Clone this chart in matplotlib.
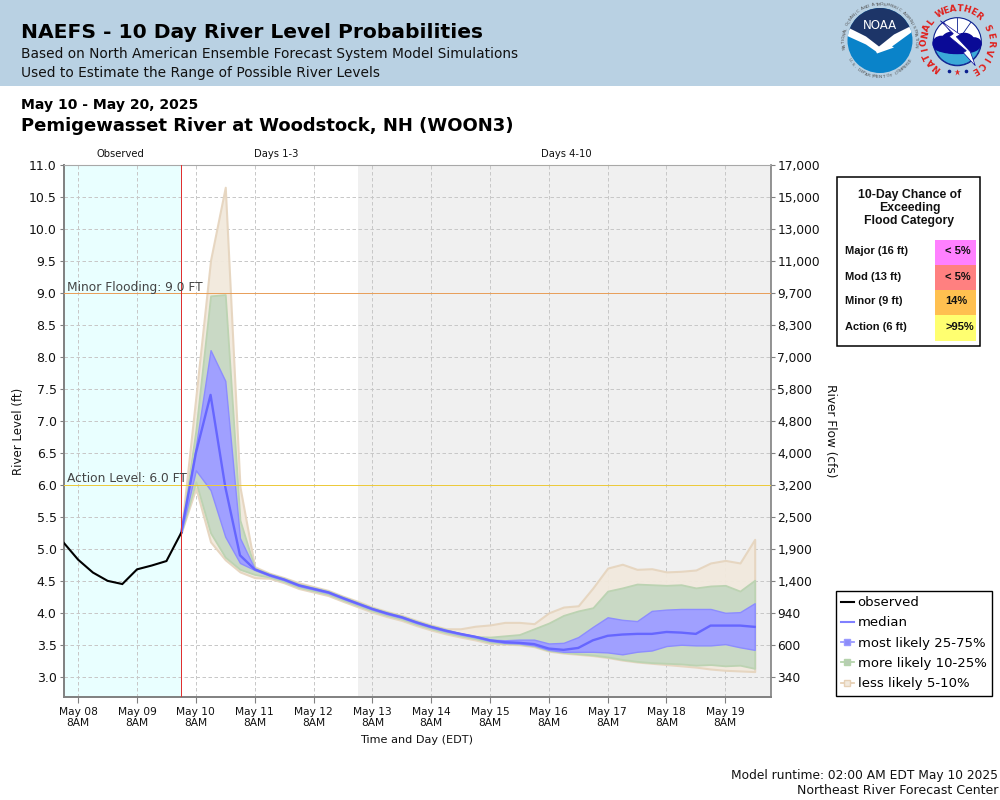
"""NAEFS 10 day river level probabilities, Pemigewasset River at Woodstock."""
import numpy as np
import matplotlib
matplotlib.use("Agg")
import matplotlib.pyplot as plt
from matplotlib.lines import Line2D
from matplotlib.patches import Circle, Ellipse, Polygon, Rectangle, Wedge

# hours since May 08 8AM
OBS_HOURS = [-6, 0, 6, 12, 18, 24, 30, 36, 42]
OBSERVED = [5.10, 4.83, 4.63, 4.50, 4.45, 4.68, 4.74, 4.81, 5.25]

FCST_HOURS = list(range(42, 282, 6))
MEDIAN = [5.25, 6.50, 7.41, 5.97, 4.90, 4.68, 4.59, 4.52, 4.43, 4.375, 4.32, 4.23, 4.145, 4.06,
          3.99, 3.93, 3.85, 3.78, 3.72, 3.67, 3.625, 3.57, 3.54, 3.53, 3.51, 3.44, 3.42, 3.45,
          3.57, 3.64, 3.66, 3.67, 3.67, 3.70, 3.69, 3.67, 3.80, 3.80, 3.80, 3.78]
BLUE_HI = [5.25, 6.60, 8.11, 7.63, 5.17, 4.69, 4.60, 4.53, 4.44, 4.385, 4.33, 4.24, 4.155, 4.07,
           4.00, 3.94, 3.86, 3.79, 3.73, 3.68, 3.635, 3.58, 3.57, 3.58, 3.58, 3.52, 3.53, 3.62,
           3.78, 3.93, 3.89, 3.87, 4.03, 4.05, 4.06, 4.06, 4.06, 4.00, 4.01, 4.15]
BLUE_LO = [5.25, 6.23, 5.92, 5.19, 4.78, 4.67, 4.58, 4.51, 4.42, 4.365, 4.31, 4.22, 4.135, 4.05,
           3.98, 3.92, 3.84, 3.77, 3.71, 3.66, 3.615, 3.56, 3.53, 3.52, 3.49, 3.42, 3.39, 3.39,
           3.39, 3.38, 3.35, 3.39, 3.41, 3.48, 3.50, 3.49, 3.49, 3.51, 3.46, 3.42]
GREEN_HI = [5.25, 6.86, 8.96, 8.98, 5.45, 4.70, 4.61, 4.54, 4.45, 4.395, 4.34, 4.25, 4.165, 4.08,
            4.01, 3.95, 3.87, 3.80, 3.74, 3.67, 3.63, 3.62, 3.64, 3.66, 3.75, 3.84, 3.96, 4.03,
            4.08, 4.34, 4.39, 4.45, 4.44, 4.43, 4.44, 4.39, 4.42, 4.43, 4.34, 4.51]
GREEN_LO = [5.25, 6.05, 5.25, 4.87, 4.68, 4.60, 4.56, 4.49, 4.40, 4.345, 4.29, 4.20, 4.115, 4.03,
            3.96, 3.90, 3.82, 3.75, 3.69, 3.64, 3.595, 3.54, 3.52, 3.51, 3.48, 3.41, 3.38, 3.36,
            3.34, 3.31, 3.27, 3.24, 3.22, 3.21, 3.20, 3.18, 3.19, 3.17, 3.18, 3.13]
TAN_HI = [5.25, 7.38, 9.52, 10.66, 5.97, 4.72, 4.62, 4.55, 4.47, 4.41, 4.35, 4.26, 4.18, 4.09,
          4.02, 3.96, 3.88, 3.81, 3.75, 3.75, 3.79, 3.81, 3.85, 3.85, 3.83, 4.00, 4.09, 4.11,
          4.39, 4.70, 4.76, 4.68, 4.69, 4.64, 4.65, 4.67, 4.78, 4.82, 4.78, 5.15]
TAN_LO = [5.25, 5.95, 5.11, 4.83, 4.64, 4.55, 4.54, 4.47, 4.38, 4.325, 4.27, 4.18, 4.095, 4.01,
          3.94, 3.88, 3.80, 3.73, 3.67, 3.62, 3.575, 3.52, 3.51, 3.50, 3.47, 3.40, 3.37, 3.35,
          3.33, 3.30, 3.26, 3.23, 3.21, 3.19, 3.17, 3.15, 3.12, 3.10, 3.09, 3.08]

LEVEL_TICKS = [3.0, 3.5, 4.0, 4.5, 5.0, 5.5, 6.0, 6.5, 7.0, 7.5, 8.0, 8.5, 9.0, 9.5, 10.0, 10.5, 11.0]
FLOW_LABELS = ["340", "600", "940", "1,400", "1,900", "2,500", "3,200", "4,000", "4,800", "5,800",
               "7,000", "8,300", "9,700", "11,000", "13,000", "15,000", "17,000"]
DAY_HOURS = [24 * d for d in range(12)]
DAY_LABELS = ["May 08\n8AM", "May 09\n8AM", "May 10\n8AM", "May 11\n8AM", "May 12\n8AM", "May 13\n8AM",
              "May 14\n8AM", "May 15\n8AM", "May 16\n8AM", "May 17\n8AM", "May 18\n8AM", "May 19\n8AM"]
CATEGORIES = ["Major (16 ft)", "Mod (13 ft)", "Minor (9 ft)", "Action (6 ft)"]
CHANCES = ["< 5%", "< 5%", "14%", ">95%"]
CHANCE_COLORS = ["#ff80ff", "#ff8080", "#ffc050", "#ffff70"]

FRAME = "#808080"
GRID = "#c8c8c8"
DARK = "#111111"
SANS = "DejaVu Sans"
ARIAL = "Liberation Sans"


def ring_text(pg, text, cx, cy, r, start, stop, size, color, bottom=False, **kw):
    angles = np.linspace(start, stop, len(text))
    for ch, a in zip(text, angles):
        x = cx + r * np.cos(np.radians(a))
        y = cy - r * np.sin(np.radians(a))
        rot = a + 90 if bottom else a - 90
        pg.text(x, y, ch, rotation=rot, ha="center", va="center", fontsize=size,
                color=color, rotation_mode="anchor", **kw)


def noaa_logo(pg, cx, cy):
    pg.add_patch(Circle((cx, cy), 32.5, fc="#0a83c9", ec="none", zorder=3))
    clip = Circle((cx, cy), 32.5, transform=pg.transData)
    navy = Polygon([(cx - 34, cy - 36), (cx + 34, cy - 36), (cx + 34, cy - 14), (cx - 2, cy + 9),
                    (cx - 34, cy - 12)], fc="#1d3568", ec="none", zorder=4)
    pg.add_patch(navy)
    navy.set_clip_path(clip)
    bird = Polygon([(cx - 36, cy - 15), (cx - 14, cy - 4), (cx - 1, cy + 6), (cx + 14, cy - 6),
                    (cx + 34, cy - 16), (cx + 34, cy - 10), (cx + 12, cy + 6), (cx + 14, cy + 7),
                    (cx - 3, cy + 13), (cx - 4, cy + 11), (cx - 14, cy + 4), (cx - 36, cy - 6)],
                   fc="white", ec="none", zorder=5)
    pg.add_patch(bird)
    bird.set_clip_path(clip)
    pg.text(cx, cy - 15, "NOAA", ha="center", va="center", color="white", fontsize=8.5,
            family=SANS, zorder=6)
    ring_text(pg, "NATIONAL OCEANIC AND ATMOSPHERIC ADMINISTRATION", cx, cy, 36, 192, -8, 3.2, "#555555")
    ring_text(pg, "U.S. DEPARTMENT OF COMMERCE", cx, cy, 36.5, 212, 328, 3.2, "#555555", bottom=True)


def nws_logo(pg, cx, cy):
    pg.add_patch(Circle((cx, cy), 24, fc="white", ec="#0a1f8f", lw=0.8, zorder=3))
    pg.add_patch(Wedge((cx, cy), 23.5, 10, 170, fc="#3aa9d8", ec="#0a1f8f", lw=0.6, zorder=3))
    pg.add_patch(Wedge((cx, cy), 10, 10, 170, fc="white", ec="#0a1f8f", lw=0.6, zorder=3))
    for a in (55, 90, 125):
        pg.plot([cx + 10 * np.cos(np.radians(a)), cx + 23.5 * np.cos(np.radians(a))],
                [cy - 10 * np.sin(np.radians(a)), cy - 23.5 * np.sin(np.radians(a))],
                color="#0a1f8f", lw=0.6, zorder=3)
    for dx, dy, w, h in [(-16, 2, 18, 16), (-6, 1, 22, 22), (7, 1, 22, 20), (17, 2, 15, 13), (0, 6, 44, 13)]:
        pg.add_patch(Ellipse((cx + dx, cy + dy), w, h, fc="#0a0a96", ec="none", zorder=4))
    pg.add_patch(Polygon([(cx - 17, cy - 21), (cx + 3, cy - 7), (cx - 1, cy - 5), (cx + 13, cy + 10),
                          (cx + 18, cy + 24), (cx + 6, cy + 11), (cx + 9, cy + 9), (cx - 8, cy - 5),
                          (cx - 4, cy - 8)], fc="white", ec="#0a0a96", lw=0.5, zorder=5))
    ring_text(pg, "NATIONAL", cx, cy, 33, 231, 143, 6.4, "#e0201c", fontweight="bold", family=SANS)
    ring_text(pg, "WEATHER", cx, cy, 33, 121, 50, 6.4, "#e0201c", fontweight="bold", family=SANS)
    ring_text(pg, "SERVICE", cx, cy, 33, 24, -59, 6.4, "#e0201c", fontweight="bold", family=SANS)
    pg.plot([cx - 8, cx + 9], [cy + 29.5, cy + 29.5], ls="none", marker="o", ms=1.6, color="#0a1f8f")
    pg.plot([cx], [cy + 30.5], marker="*", ms=4.5, color="#e0201c", mec="none")


def main():
    fig = plt.figure(figsize=(10, 8), dpi=100, facecolor="white")
    ax = fig.add_axes([63.5 / 1000, 1 - 697 / 800, 707 / 1000, 532 / 800])
    x_to_hour = 2.45
    ax.set_xlim(-6, (770.5 - 78.5) / x_to_hour)
    ax.set_ylim(11.0 - (697 - 165.5) / 63.9, 11.0 + 0.5 / 63.9)

    ax.axvspan(-6, 42, color="#e9ffff", lw=0, zorder=0)
    ax.axvspan(114, ax.get_xlim()[1], color="#f0f0f0", lw=0, zorder=0)
    ax.set_yticks(LEVEL_TICKS)
    ax.set_xticks(DAY_HOURS)
    ax.set_xticklabels(DAY_LABELS)
    ax.grid(True, color=GRID, ls=(0, (3.5, 2.5)), lw=0.72, zorder=1)
    ax.set_axisbelow(True)

    ax.fill_between(FCST_HOURS, TAN_LO, TAN_HI, fc="#f2e9dd", ec="#e6d5bf", lw=1.5, alpha=0.95, zorder=2)
    ax.fill_between(FCST_HOURS, GREEN_LO, GREEN_HI, fc="#c9d9c5", ec="#bcd3b2", lw=1.3, zorder=3)
    ax.fill_between(FCST_HOURS, BLUE_LO, BLUE_HI, fc="#a0a0ff", ec="#8c8cff", lw=1.0, zorder=4)
    ax.plot(FCST_HOURS, MEDIAN, color="#6666ff", lw=1.7, zorder=5)
    ax.plot(OBS_HOURS, OBSERVED, color="black", lw=1.5, zorder=6, solid_joinstyle="miter")

    ax.axhline(9.0, color="#e8a05c", lw=0.72, zorder=7)
    ax.axhline(6.0, color="#ecca3c", lw=0.72, zorder=7)
    ax.axvline(42, color="#e03030", lw=0.72, zorder=7)
    ax.text(-4.6, 8.995, "Minor Flooding: 9.0 FT", color="#444444", fontsize=8.85, va="bottom", zorder=8)
    ax.text(-4.6, 5.995, "Action Level: 6.0 FT", color="#444444", fontsize=8.85, va="bottom", zorder=8)

    for side, lw in (("left", 1.4), ("bottom", 1.4), ("right", 1.2)):
        ax.spines[side].set_color(FRAME)
        ax.spines[side].set_linewidth(lw)
    ax.spines["top"].set_color("#a8a8a8")
    ax.tick_params(axis="y", colors=FRAME, labelcolor=DARK, labelsize=9, length=3, pad=2)
    ax.tick_params(axis="x", colors=FRAME, labelcolor=DARK, labelsize=7.7, length=4, pad=3)

    right = ax.twinx()
    right.set_ylim(ax.get_ylim())
    right.set_yticks(LEVEL_TICKS)
    right.set_yticklabels(FLOW_LABELS)
    right.tick_params(axis="y", colors=FRAME, labelcolor=DARK, labelsize=8.8, length=3, pad=2)
    for sp in right.spines.values():
        sp.set_visible(False)

    handles = [
        Line2D([], [], color="black", lw=1.5),
        Line2D([], [], color="#8080ff", lw=1.5),
        Line2D([], [], color="#9a9aff", lw=1.3, marker="s", ms=5, mfc="#8c8cf8", mec="#9a9aff"),
        Line2D([], [], color="#b5d3ac", lw=1.3, marker="s", ms=5, mfc="#b7cdb3", mec="#b5d3ac"),
        Line2D([], [], color="#e6d0b5", lw=1.3, marker="s", ms=5, mfc="#f2e9dd", mec="#e6d0b5"),
    ]
    fig.legend(handles, ["observed", "median", "most likely 25-75%", "more likely 10-25%", "less likely 5-10%"],
               loc="lower left", bbox_to_anchor=(835.5 / 1000, 1 - 695.5 / 800), fontsize=9.5,
               frameon=True, fancybox=False, edgecolor="black", framealpha=1, handlelength=1.0,
               handletextpad=0.28, labelspacing=0.55, borderpad=0.4, borderaxespad=0)

    # page overlay in pixel coordinates
    pg = fig.add_axes([0, 0, 1, 1], facecolor="none", zorder=10)
    pg.set_xlim(0, 1000)
    pg.set_ylim(800, 0)
    pg.axis("off")
    pg.add_patch(Rectangle((0, 0), 1000, 85.5, fc="#b9d1e3", ec="none"))

    pg.text(21, 33, "NAEFS - 10 Day River Level Probabilities", fontsize=14.55, fontweight="bold",
            family=SANS, va="center", color="black")
    pg.text(21, 54, "Based on North American Ensemble Forecast System Model Simulations", fontsize=9.88,
            family=SANS, va="center", color=DARK)
    pg.text(21, 73, "Used to Estimate the Range of Possible River Levels", fontsize=9.88,
            family=SANS, va="center", color=DARK)
    pg.text(21, 105, "May 10 - May 20, 2025", fontsize=10.05, fontweight="bold", family=SANS, va="center", color="black")
    pg.text(21, 126, "Pemigewasset River at Woodstock, NH (WOON3)", fontsize=13.0, fontweight="bold",
            family=SANS, va="center", color="black")
    noaa_logo(pg, 880, 40.5)
    nws_logo(pg, 957.3, 41.7)

    for x, label in ((120, "Observed"), (276.5, "Days 1-3"), (566.5, "Days 4-10")):
        pg.text(x, 154, label, fontsize=7.2, ha="center", va="center", color=DARK, family=SANS)
    pg.text(18.5, 431, "River Level (ft)", fontsize=8.5, rotation=90, ha="center", va="center", color=DARK)
    pg.text(831, 431, "River Flow (cfs)", fontsize=8.7, rotation=-90, ha="center", va="center", color=DARK)
    pg.text(417, 740, "Time and Day (EDT)", fontsize=8.1, ha="center", va="center", color=DARK)
    pg.text(998, 775, "Model runtime: 02:00 AM EDT May 10 2025", fontsize=8.85, ha="right", va="center", color=DARK)
    pg.text(998, 791, "Northeast River Forecast Center", fontsize=9, ha="right", va="center", color=DARK)

    pg.add_patch(Rectangle((836.5, 176.5), 143.5, 169, fc="white", ec="black", lw=1.1))
    for y, line in zip((195, 208, 221), ("10-Day Chance of", "Exceeding", "Flood Category")):
        pg.text(909.5, y, line, fontsize=8.8, fontweight="bold", family=ARIAL, ha="center", va="center", color=DARK)
    for i, (cat, chance, col) in enumerate(zip(CATEGORIES, CHANCES, CHANCE_COLORS)):
        top = 240 + 25 * i
        pg.add_patch(Rectangle((935, top), 41, 25 + (i == 3), fc=col, ec="none"))
        pg.text(845, top + 11.5, cat, fontsize=8, fontweight="bold", family=ARIAL, va="center", color=DARK)
        pg.text(945, top + 11.5, chance, fontsize=8, fontweight="bold", family=ARIAL, va="center", color=DARK)

    fig.savefig("out.png", dpi=100)


if __name__ == "__main__":
    main()
